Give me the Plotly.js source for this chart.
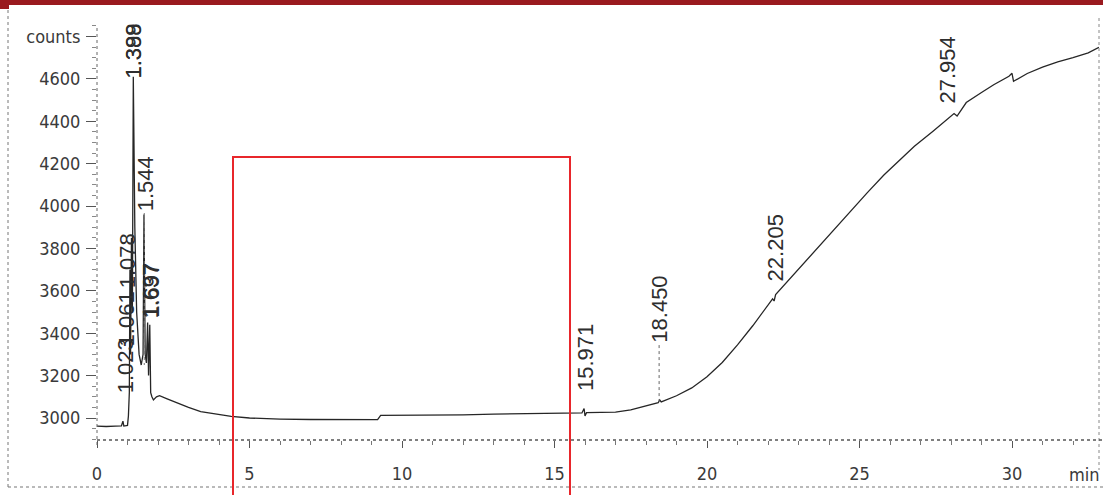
<!DOCTYPE html>
<html>
<head>
<meta charset="utf-8">
<script src="https://cdn.plot.ly/plotly-3.0.1.min.js"></script>
<style>
  html, body { margin: 0; padding: 0; background: #ffffff; }
  #chart { width: 1103px; height: 495px; }
</style>
</head>
<body>
<div id="chart"></div>
<script>
// ---- data ----
const timeMin = [
  0.00, 0.30, 0.60, 0.80, 0.85, 0.88, 1.00, 1.03, 1.06, 1.08, 1.10, 1.13, 1.16, 1.19,
  1.24, 1.30, 1.38, 1.45, 1.51, 1.54, 1.58, 1.62, 1.66, 1.69, 1.73, 1.76, 1.80, 1.85,
  1.95, 2.05, 2.30, 2.70, 3.00, 3.40, 3.80, 4.40, 5.00, 5.50, 6.00, 7.00, 8.00, 9.20,
  9.30, 10.0, 11.0, 12.0, 13.0, 14.0, 15.0, 15.90, 15.97, 16.00, 16.05, 16.50, 17.00,
  17.50, 18.00, 18.40, 18.45, 18.50, 19.00, 19.50, 20.00, 20.50, 21.00, 21.50, 22.15,
  22.20, 22.25, 22.35, 23.05, 23.60, 24.10, 24.70, 25.25, 25.80, 26.30, 26.80, 27.40,
  27.95, 28.10, 28.20, 28.50, 29.00, 29.40, 29.90, 30.00, 30.05, 30.20, 30.50, 31.00,
  31.50, 32.00, 32.50, 32.85
];
const counts = [
  2962, 2960, 2962, 2963, 2985, 2962, 2965, 3010, 3120, 3700, 3300, 3850, 3500, 4610,
  3900, 3500, 3300, 3250, 3300, 3960, 3300, 3260, 3450, 3200, 3440, 3120, 3100, 3085,
  3100, 3105, 3090, 3065, 3050, 3030, 3020, 3008, 3000, 2997, 2995, 2993, 2992, 2992,
  3012, 3012, 3012, 3015, 3018, 3020, 3023, 3024, 3045, 3010, 3025, 3026, 3028,
  3038, 3056, 3072, 3085, 3076, 3105, 3142, 3195, 3262, 3345, 3435, 3562,
  3552, 3582, 3598, 3712, 3800, 3880, 3975, 4062, 4146, 4215, 4282, 4352,
  4418, 4436, 4424, 4488, 4535, 4572, 4612, 4626, 4588, 4600, 4625, 4655,
  4680, 4700, 4722, 4748
];

// peak retention-time labels (text, where they stand on the time axis, foot height in counts)
const peakText  = ["1.023", "1.061", "1.078", "1.388", "1.399", "1.544", "1.637", "1.697",
                   "15.971", "18.450", "22.205", "27.954"];
const peakLabelT = [0.94, 0.98, 1.01, 1.21, 1.21, 1.60, 1.77, 1.78,
                    16.02, 18.43, 22.26, 27.90];
const peakLabelC = [3108, 3330, 3604, 4594, 4594, 3967, 3462, 3462,
                    3118, 3344, 3637, 4476];

// axis ticks
const yTickVals = [3000, 3200, 3400, 3600, 3800, 4000, 4200, 4400, 4600, 4800];
const yTickText = ["3000", "3200", "3400", "3600", "3800", "4000", "4200", "4400", "4600", "counts"];
const xTickVals = [0, 5, 10, 15, 20, 25, 30];
const xTickText = ["0", "5", "10", "15", "20", "25", "30"];

// ---- layout geometry (pixels) ----
const PL = 97, PR = 1099, PT = 20, PB = 440;
const PW = PR - PL, PH = PB - PT;
const px = v => (v - PL) / PW;
const py = v => (PB - v) / PH;

const tickFont = {family: '"Liberation Sans Narrow", "Arial Narrow", "DejaVu Sans Condensed", "Liberation Sans", sans-serif', size: 18, color: '#3a3a3a'};
const labelFont = {family: '"Liberation Sans", Arial, sans-serif', size: 22, color: '#2e2e2e'};

const trace = {
  x: timeMin, y: counts, type: 'scatter', mode: 'lines',
  line: {color: '#262626', width: 1.3},
  hoverinfo: 'x+y', showlegend: false
};

const annotations = peakText.map((t, i) => ({
  x: peakLabelT[i], y: peakLabelC[i], xref: 'x', yref: 'y',
  text: t, textangle: -90, showarrow: false,
  xanchor: 'center', yanchor: 'bottom', font: labelFont
}));
annotations.push({
  x: px(1102), y: py(474), xref: 'paper', yref: 'paper', text: 'min',
  showarrow: false, xanchor: 'right', yanchor: 'middle', font: tickFont
});

const shapes = [
  // dark red band at the top of the scan
  {type: 'rect', xref: 'paper', yref: 'paper', x0: px(0), x1: px(1103), y0: py(0), y1: py(5),
   fillcolor: '#9a1a1f', line: {width: 0}, layer: 'above'},
  {type: 'rect', xref: 'paper', yref: 'paper', x0: px(0), x1: px(9), y0: py(0), y1: py(9),
   fillcolor: '#9a1a1f', line: {width: 0}, layer: 'above'},
  // dashed outer frame
  {type: 'line', xref: 'paper', yref: 'paper', x0: px(8), x1: px(8), y0: py(10), y1: py(488),
   line: {color: '#777', width: 1, dash: 'dot'}},
  {type: 'line', xref: 'paper', yref: 'paper', x0: px(8), x1: px(1103), y0: py(487), y1: py(487),
   line: {color: '#777', width: 1.2, dash: 'dot'}},
  {type: 'line', xref: 'paper', yref: 'paper', x0: px(1099), x1: px(1099), y0: py(18), y1: py(470),
   line: {color: '#888', width: 1, dash: 'dot'}},
  // dashed axis lines
  {type: 'line', xref: 'paper', yref: 'paper', x0: px(97), x1: px(1103), y0: py(440), y1: py(440),
   line: {color: '#555', width: 1.3, dash: 'dot'}},
  {type: 'line', xref: 'paper', yref: 'paper', x0: px(97), x1: px(97), y0: py(28), y1: py(446),
   line: {color: '#666', width: 1, dash: 'dot'}},
  // dotted drop lines from labels to peaks
  {type: 'line', xref: 'x', yref: 'y', x0: peakLabelT[9], x1: peakLabelT[9], y0: peakLabelC[9], y1: 3080,
   line: {color: '#666', width: 1, dash: 'dot'}},
  {type: 'line', xref: 'x', yref: 'y', x0: 1.55, x1: 1.55, y0: peakLabelC[5], y1: 3250,
   line: {color: '#777', width: 1, dash: 'dot'}},
  // red highlight box
  {type: 'rect', xref: 'paper', yref: 'paper', x0: px(233), x1: px(570), y0: py(157), y1: py(500),
   line: {color: '#e8262b', width: 2}, fillcolor: 'rgba(0,0,0,0)', layer: 'above'}
];

const layout = {
  width: 1103, height: 495,
  margin: {l: PL, r: 1103 - PR, t: PT, b: 495 - PB, pad: 0},
  paper_bgcolor: '#ffffff', plot_bgcolor: '#ffffff',
  showlegend: false,
  xaxis: {
    range: [0, PW / 30.5], showgrid: false, zeroline: false, showline: false,
    tickmode: 'array', tickvals: xTickVals, ticktext: xTickText,
    ticks: 'outside', ticklen: 7, tickcolor: '#555', tickwidth: 1,
    minor: {dtick: 1, ticks: 'outside', ticklen: 4, tickcolor: '#777', showgrid: false},
    tickfont: tickFont, ticklabelstandoff: 10
  },
  yaxis: {
    range: [3000 - (PB - 418) / 0.212, 3000 + (418 - PT) / 0.212],
    showgrid: false, zeroline: false, showline: false,
    tickmode: 'array', tickvals: yTickVals, ticktext: yTickText,
    ticks: 'outside', ticklen: 10, tickcolor: '#555', tickwidth: 1,
    minor: {dtick: 50, ticks: 'outside', ticklen: 4, tickcolor: '#888', showgrid: false},
    tickfont: tickFont, ticklabelstandoff: 2
  },
  annotations: annotations,
  shapes: shapes
};

Plotly.newPlot('chart', [trace], layout, {displayModeBar: false, staticPlot: true});
</script>
</body>
</html>
